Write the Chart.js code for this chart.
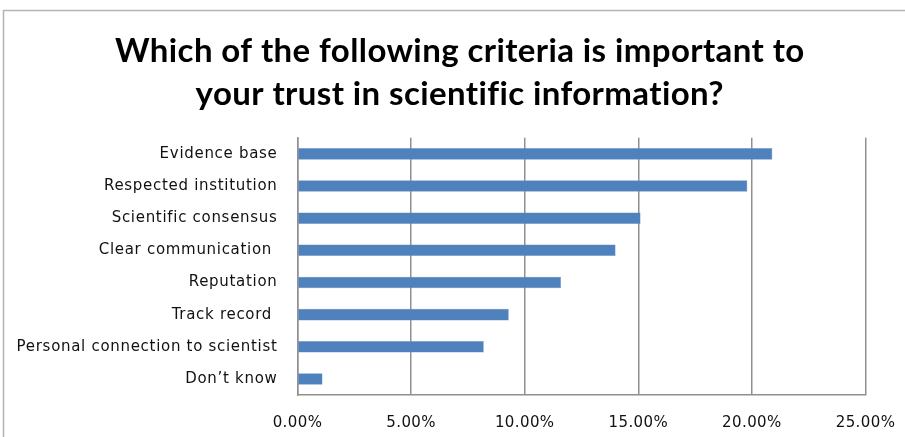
<!DOCTYPE html>
<html><head><meta charset="utf-8">
<script src="https://cdn.jsdelivr.net/npm/chart.js@4.4.1/dist/chart.umd.min.js"></script>
<style>html,body{margin:0;padding:0;background:#fff;overflow:hidden}#wrap{width:905px;height:437px;position:relative}</style>
</head><body><div id="wrap"><canvas id="c" width="905" height="437"></canvas></div>
<script>
const titleLines = ["Which of the following criteria is important to", "your trust in scientific information?"];
const categories = ["Evidence base", "Respected institution", "Scientific consensus", "Clear communication ", "Reputation", "Track record ", "Personal connection to scientist", "Don\u2019t know"];
const values = [20.9, 19.8, 15.1, 14.0, 11.6, 9.3, 8.2, 1.1];
const xTicks = [0, 5, 10, 15, 20, 25];

function withSpacing(obj, method, spacing, dx) {
  if (!obj || obj['__sp_' + method]) return;
  const orig = obj[method];
  obj[method] = function (...args) {
    const ctx = this.ctx;
    ctx.save();
    ctx.letterSpacing = spacing;
    if (dx) ctx.translate(dx, 0);
    const r = orig.apply(this, args);
    ctx.restore();
    return r;
  };
  obj['__sp_' + method] = true;
}

const frame = {
  id: 'frame',
  beforeDraw(chart) {
    withSpacing(chart.scales.y, 'drawLabels', '0.7px', 0);
    withSpacing(chart.scales.x, 'drawLabels', '0.4px', 0);
    withSpacing(chart.titleBlock, 'draw', '0.4px', 27);
    const ctx = chart.ctx;
    ctx.save();
    ctx.fillStyle = '#fff';
    ctx.fillRect(0, 0, chart.width, chart.height);
    ctx.strokeStyle = '#b4b4b4';
    ctx.lineWidth = 1.5;
    ctx.strokeRect(3.5, 10.5, 1200, 1200);
    ctx.restore();
  }
};

new Chart(document.getElementById('c'), {
  type: 'bar',
  data: {
    labels: categories,
    datasets: [{ data: values, backgroundColor: '#4f81bd', borderColor: '#6a95c9', borderWidth: 0.5, barPercentage: 0.36, categoryPercentage: 1 }]
  },
  options: {
    indexAxis: 'y',
    responsive: false,
    animation: false,
    devicePixelRatio: 1,
    layout: { padding: { left: 0, right: 39.5, top: 0, bottom: 0 } },
    plugins: {
      legend: { display: false },
      tooltip: { enabled: false },
      title: {
        display: true,
        text: titleLines,
        color: '#000',
        font: { family: 'Lato', size: 33, weight: 'bold', lineHeight: 1.3 },
        padding: { top: 30, bottom: 22 }
      }
    },
    scales: {
      x: {
        min: 0, max: 25,
        afterBuildTicks(s) { s.ticks = xTicks.map(v => ({ value: v })); },
        afterFit(s) { s.height = 42; s.paddingLeft = 0; s.paddingRight = 0; },
        ticks: { callback: v => Number(v).toFixed(2) + '%', color: '#111', font: { family: 'DejaVu Sans', size: 15 }, padding: 19, maxRotation: 0 },
        grid: { color: '#909090', lineWidth: 1.5, drawTicks: false },
        border: { color: '#909090', width: 1.5 }
      },
      y: {
        afterFit(s) { s.width = 297.5; },
        ticks: { color: '#111', font: { family: 'DejaVu Sans', size: 15 }, padding: 20 },
        grid: { display: false, drawTicks: false },
        border: { color: '#909090', width: 1.5 }
      }
    }
  },
  plugins: [frame]
});
</script></body></html>
